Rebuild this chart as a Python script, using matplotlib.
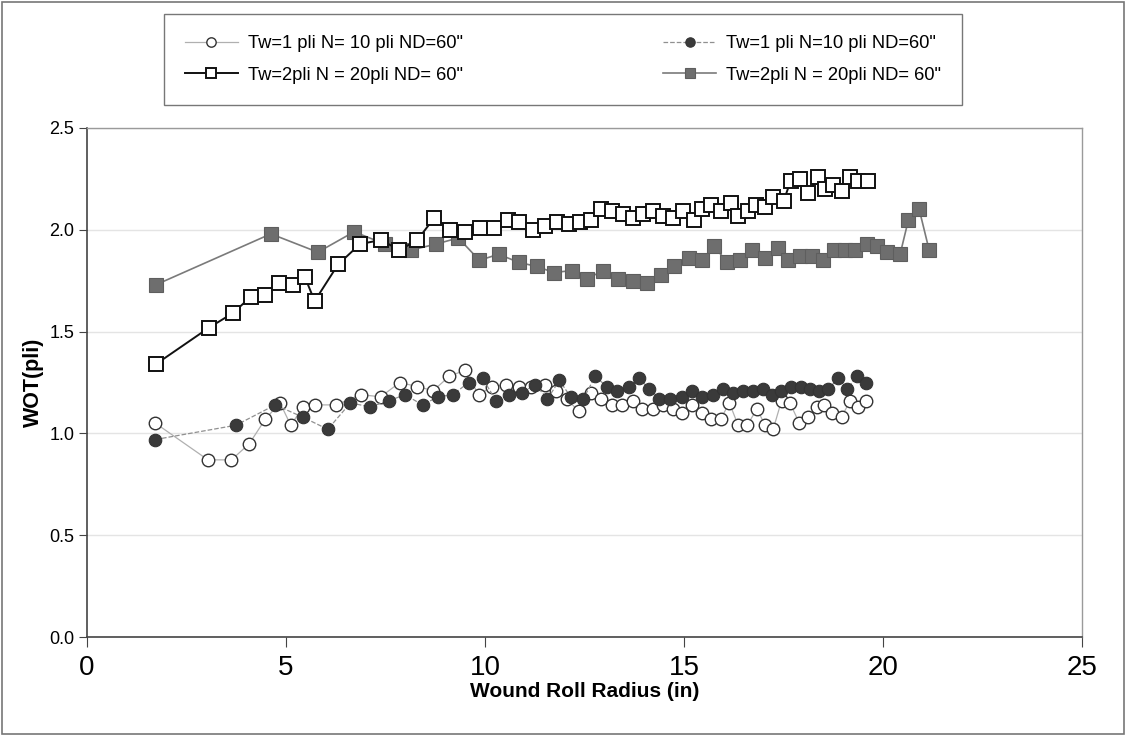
import matplotlib

matplotlib.use("Agg")
import matplotlib.pyplot as plt
from matplotlib.patches import Rectangle

plt.rcParams.update({
    "font.family": ["Liberation Sans", "DejaVu Sans"],
})

# ── data ─────────────────────────────────────────────────────────────────────
# Tw=1 pli N=10 pli, open circles
r_open_c = [1.72, 3.04, 3.63, 4.08, 4.48, 4.85, 5.12, 5.43, 5.73, 6.26, 6.88,
            7.38, 7.86, 8.30, 8.70, 9.10, 9.49, 9.84, 10.17, 10.53, 10.85,
            11.16, 11.50, 11.78, 12.05, 12.35, 12.66, 12.92, 13.19, 13.44,
            13.71, 13.94, 14.23, 14.48, 14.73, 14.94, 15.19, 15.44, 15.67,
            15.92, 16.14, 16.36, 16.59, 16.83, 17.04, 17.24, 17.45, 17.66,
            17.90, 18.12, 18.33, 18.52, 18.71, 18.96, 19.17, 19.38, 19.57]
w_open_c = [1.05, 0.87, 0.87, 0.95, 1.07, 1.15, 1.04, 1.13, 1.14, 1.14, 1.19,
            1.18, 1.25, 1.23, 1.21, 1.28, 1.31, 1.19, 1.23, 1.24, 1.23,
            1.23, 1.24, 1.21, 1.17, 1.11, 1.20, 1.17, 1.14, 1.14,
            1.16, 1.12, 1.12, 1.14, 1.12, 1.10, 1.14, 1.10, 1.07,
            1.07, 1.15, 1.04, 1.04, 1.12, 1.04, 1.02, 1.16, 1.15,
            1.05, 1.08, 1.13, 1.14, 1.10, 1.08, 1.16, 1.13, 1.16]

# Tw=1 pli N=10 pli, filled circles
r_fill_c = [1.72, 3.74, 4.73, 5.42, 6.05, 6.62, 7.11, 7.58, 7.99, 8.43, 8.82,
            9.19, 9.59, 9.94, 10.28, 10.61, 10.93, 11.26, 11.57, 11.87, 12.15,
            12.47, 12.77, 13.06, 13.32, 13.61, 13.86, 14.13, 14.38, 14.65,
            14.94, 15.19, 15.44, 15.72, 15.97, 16.22, 16.47, 16.74, 16.98,
            17.20, 17.43, 17.68, 17.93, 18.17, 18.40, 18.63, 18.88, 19.10,
            19.35, 19.57]
w_fill_c = [0.97, 1.04, 1.14, 1.08, 1.02, 1.15, 1.13, 1.16, 1.19, 1.14, 1.18,
            1.19, 1.25, 1.27, 1.16, 1.19, 1.20, 1.24, 1.17, 1.26, 1.18,
            1.17, 1.28, 1.23, 1.21, 1.23, 1.27, 1.22, 1.17, 1.17,
            1.18, 1.21, 1.18, 1.19, 1.22, 1.20, 1.21, 1.21, 1.22,
            1.19, 1.21, 1.23, 1.23, 1.22, 1.21, 1.22, 1.27, 1.22,
            1.28, 1.25]

# Tw=2pli N=20pli, open squares
r_open_s = [1.73, 3.07, 3.66, 4.11, 4.46, 4.82, 5.17, 5.47, 5.72, 6.31, 6.86,
            7.39, 7.85, 8.30, 8.73, 9.12, 9.50, 9.87, 10.23, 10.58, 10.86,
            11.21, 11.50, 11.80, 12.10, 12.39, 12.66, 12.92, 13.19, 13.46,
            13.73, 13.96, 14.23, 14.48, 14.73, 14.98, 15.25, 15.44, 15.67,
            15.92, 16.17, 16.36, 16.62, 16.81, 17.04, 17.24, 17.50, 17.68,
            17.91, 18.12, 18.37, 18.54, 18.75, 18.96, 19.17, 19.38, 19.63]
w_open_s = [1.34, 1.52, 1.59, 1.67, 1.68, 1.74, 1.73, 1.77, 1.65, 1.83, 1.93,
            1.95, 1.90, 1.95, 2.06, 2.00, 1.99, 2.01, 2.01, 2.05, 2.04,
            2.00, 2.02, 2.04, 2.03, 2.04, 2.05, 2.10, 2.09, 2.08,
            2.06, 2.08, 2.09, 2.07, 2.06, 2.09, 2.05, 2.10, 2.12,
            2.09, 2.13, 2.07, 2.09, 2.12, 2.11, 2.16, 2.14, 2.24,
            2.25, 2.18, 2.26, 2.20, 2.22, 2.19, 2.26, 2.24, 2.24]

# Tw=2pli N=20pli, filled squares
r_fill_s = [1.73, 4.62, 5.80, 6.71, 7.49, 8.14, 8.77, 9.33, 9.86, 10.34,
            10.85, 11.30, 11.73, 12.19, 12.57, 12.97, 13.34, 13.73, 14.06,
            14.41, 14.76, 15.12, 15.45, 15.75, 16.09, 16.41, 16.71, 17.04,
            17.35, 17.62, 17.91, 18.21, 18.50, 18.77, 19.05, 19.30, 19.59,
            19.84, 20.09, 20.43, 20.64, 20.91, 21.16]
w_fill_s = [1.73, 1.98, 1.89, 1.99, 1.93, 1.90, 1.93, 1.96, 1.85, 1.88,
            1.84, 1.82, 1.79, 1.80, 1.76, 1.80, 1.76, 1.75, 1.74,
            1.78, 1.82, 1.86, 1.85, 1.92, 1.84, 1.85, 1.90, 1.86,
            1.91, 1.85, 1.87, 1.87, 1.85, 1.90, 1.90, 1.90, 1.93,
            1.92, 1.89, 1.88, 2.05, 2.10, 1.90]

labels = [
    'Tw=1 pli N= 10 pli ND=60"',
    'Tw=1 pli N=10 pli ND=60"',
    'Tw=2pli N = 20pli ND= 60"',
    'Tw=2pli N = 20pli ND= 60"',
]

fig = plt.figure(figsize=(11.27, 7.36), dpi=100)
ax = fig.add_axes([87 / 1127, 1 - 637 / 736, (1082 - 87) / 1127, (637 - 128) / 736])

# filled squares drawn first, open squares over them
h_fs, = ax.plot(r_fill_s, w_fill_s, "-", color="#7a7a7a", lw=1.2, marker="s", ms=10,
                mfc="#6e6e6e", mec="#5e5e5e", mew=0.8, label=labels[3], zorder=3)
h_os, = ax.plot(r_open_s, w_open_s, "-", color="#111111", lw=1.4, marker="s", ms=10,
                mfc="white", mec="#111111", mew=1.4, label=labels[2], zorder=4)
h_oc, = ax.plot(r_open_c, w_open_c, "-", color="#b0b0b0", lw=0.9, marker="o", ms=9,
                mfc="white", mec="#333333", mew=1.0, label=labels[0], zorder=3)
h_fc, = ax.plot(r_fill_c, w_fill_c, "--", color="#909090", lw=0.9, marker="o", ms=9,
                mfc="#3a3a3a", mec="#333333", mew=0.8, label=labels[1], zorder=4)

ax.set_xlim(0, 25)
ax.set_ylim(0, 2.5)
ax.set_xticks([0, 5, 10, 15, 20, 25])
ax.set_yticks([0.0, 0.5, 1.0, 1.5, 2.0, 2.5])
ax.set_yticklabels(["0.0", "0.5", "1.0", "1.5", "2.0", "2.5"])
ax.tick_params(axis="x", labelsize=20, direction="out", length=7, color="#444444", pad=6)
ax.tick_params(axis="y", labelsize=13, direction="out", length=6, color="#444444", pad=3)
ax.grid(True, axis="y", color="#e4e4e4", lw=1.0)
ax.set_axisbelow(True)
for side in ["top", "right"]:
    ax.spines[side].set_color("#9a9a9a")
    ax.spines[side].set_linewidth(1.0)
for side in ["left", "bottom"]:
    ax.spines[side].set_color("#444444")
    ax.spines[side].set_linewidth(1.2)
ax.set_xlabel("Wound Roll Radius (in)", fontsize=15, fontweight="bold", labelpad=1)
ax.set_ylabel("WOT(pli)", fontsize=15.5, fontweight="bold", labelpad=4)

leg = fig.legend([h_oc, h_os, h_fc, h_fs], [labels[0], labels[2], labels[1], labels[3]],
                 ncol=2, loc="center", bbox_to_anchor=(563 / 1127, 1 - 59.5 / 736),
                 fontsize=13.2, frameon=True, fancybox=False, edgecolor="#555555",
                 columnspacing=10.9, handlelength=2.9, handletextpad=0.55,
                 borderpad=1.15, labelspacing=0.8, markerscale=0.75)
leg.get_frame().set_linewidth(1.0)

# outer chart border
fig.patches.append(Rectangle((0.002, 0.003), 0.995, 0.994, transform=fig.transFigure,
                             fill=False, edgecolor="#777777", lw=1.2))

fig.savefig("out.png", dpi=100)
